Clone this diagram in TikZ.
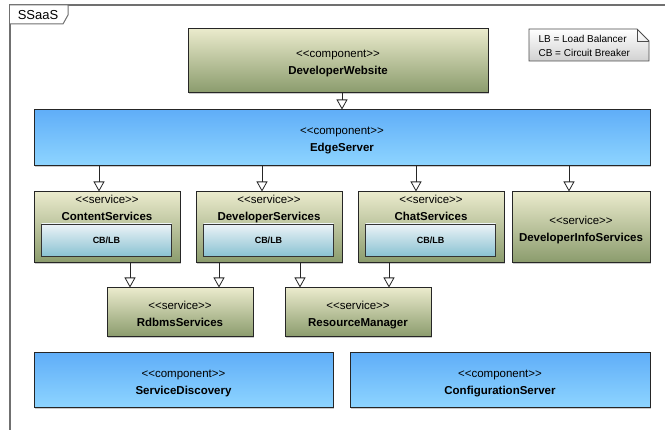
\documentclass[tikz,border=0pt]{standalone}
\usepackage{fontspec}
\setmainfont{Liberation Sans}
\usetikzlibrary{calc,arrows.meta,shadows}

\definecolor{svctop}{RGB}{234,234,204}
\definecolor{svcbot}{RGB}{138,155,108}
\definecolor{comptop}{RGB}{96,174,248}
\definecolor{compbot}{RGB}{142,213,255}
\definecolor{cbtop}{RGB}{236,243,247}
\definecolor{cbbot}{RGB}{138,194,210}
\definecolor{framegray}{RGB}{112,112,112}

\newcommand{\stereo}[1]{\strut<\kern0pt<#1>\kern0pt>}
\newcommand{\cname}[1]{\strut\textbf{#1}}

\tikzset{
  box/.style={draw=black!85, line width=1pt, rectangle, inner sep=0pt,
    drop shadow={shadow xshift=1pt, shadow yshift=-1pt, opacity=0.35, fill=black!60}},
  svc/.style={box, top color=svctop, bottom color=svcbot},
  comp/.style={box, top color=comptop, bottom color=compbot},
  cblb/.style={draw=black!80, line width=0.8pt, top color=cbtop, bottom color=cbbot,
    minimum width=130pt, minimum height=32pt, font=\bfseries\fontsize{9}{10}\selectfont},
  dep/.style={black!85, line width=0.8pt, -{Triangle[open,length=10pt,width=11pt]}},
  lbl/.style={align=center, inner sep=0pt, yshift=-2pt, font=\fontsize{11.5}{17}\selectfont},
}

\begin{document}
\begin{tikzpicture}[x=1pt, y=-1pt]
  \useasboundingbox (0,0) rectangle (665,430);
  % frame and tab
  \draw[framegray, line width=1.3pt] (10,430) -- (10,5) -- (665,5);
  \draw[framegray, line width=1pt, fill=white] (10,5) -- (68,5) -- (68,15) -- (63,24) -- (10,24);
  \node[font=\fontsize{13}{14}\selectfont] (tab) at (38,15) {SSaaS};
  % legend note
  \draw[black!70, line width=0.8pt, top color=white, bottom color=black!18]
    (529,29) -- (637,29) -- (649,41) -- (649,61) -- (529,61) -- cycle;
  \draw[black!70, line width=0.8pt] (637,29) -- (637,41) -- (649,41);
  \node[anchor=west, align=left, font=\fontsize{10}{14}\selectfont] (note) at (535,45.5)
    {LB = Load Balancer\\CB = Circuit Breaker};

  % components
  \node[svc, minimum width=300pt, minimum height=64pt] (web) at (338,61) {};
  \node[lbl] (webtxt) at (web) {\stereo{component}\\\cname{DeveloperWebsite}};
  \node[comp, minimum width=616pt, minimum height=56pt] (edge) at (342,138) {};
  \node[lbl] (edgetxt) at (edge) {\stereo{component}\\\cname{EdgeServer}};

  % services
  \node[svc, minimum width=146pt, minimum height=71pt] (content) at (107,227.5) {};
  \node[lbl] (contenttxt) at (107,207) {\stereo{service}\\\cname{ContentServices}};
  \node[cblb] (contentcb) at (106.5,240) {CB/LB};
  \node[svc, minimum width=146pt, minimum height=71pt] (devsvc) at (269,227.5) {};
  \node[lbl] (devsvctxt) at (269,207) {\stereo{service}\\\cname{DeveloperServices}};
  \node[cblb] (devsvccb) at (268.5,240) {CB/LB};
  \node[svc, minimum width=146pt, minimum height=71pt] (chat) at (431,227.5) {};
  \node[lbl] (chattxt) at (431,207) {\stereo{service}\\\cname{ChatServices}};
  \node[cblb] (chatcb) at (430.5,240) {CB/LB};
  \node[svc, minimum width=138pt, minimum height=71pt] (info) at (581,227.5) {};
  \node[lbl] (infotxt) at (info) {\stereo{service}\\\cname{DeveloperInfoServices}};

  \node[svc, minimum width=146pt, minimum height=49pt] (rdbms) at (180,312.5) {};
  \node[lbl] (rdbmstxt) at (rdbms) {\stereo{service}\\\cname{RdbmsServices}};
  \node[svc, minimum width=146pt, minimum height=49pt] (resource) at (358,312.5) {};
  \node[lbl] (resourcetxt) at (resource) {\stereo{service}\\\cname{ResourceManager}};

  \node[comp, minimum width=299pt, minimum height=55pt] (discovery) at (183.5,380.5) {};
  \node[lbl] (discoverytxt) at (discovery) {\stereo{component}\\\cname{ServiceDiscovery}};
  \node[comp, minimum width=300pt, minimum height=55pt] (config) at (500,380.5) {};
  \node[lbl] (configtxt) at (config) {\stereo{component}\\\cname{ConfigurationServer}};

  % dependencies
  \draw[dep] (web.south -| edge.north) -- (edge.north);
  \draw[dep] ([xshift=-8pt]content.north |- edge.south) -- ([xshift=-8pt]content.north);
  \draw[dep] ([xshift=-7pt]devsvc.north |- edge.south) -- ([xshift=-7pt]devsvc.north);
  \draw[dep] ([xshift=-15pt]chat.north |- edge.south) -- ([xshift=-15pt]chat.north);
  \draw[dep] ([xshift=-12pt]info.north |- edge.south) -- ([xshift=-12pt]info.north);
  \draw[dep] ([xshift=23pt]content.south) -- ([xshift=23pt]content.south |- rdbms.north);
  \draw[dep] ([xshift=-50pt]devsvc.south) -- ([xshift=-50pt]devsvc.south |- rdbms.north);
  \draw[dep] ([xshift=31pt]devsvc.south) -- ([xshift=31pt]devsvc.south |- resource.north);
  \draw[dep] ([xshift=-42pt]chat.south) -- ([xshift=-42pt]chat.south |- resource.north);
\end{tikzpicture}
\end{document}
